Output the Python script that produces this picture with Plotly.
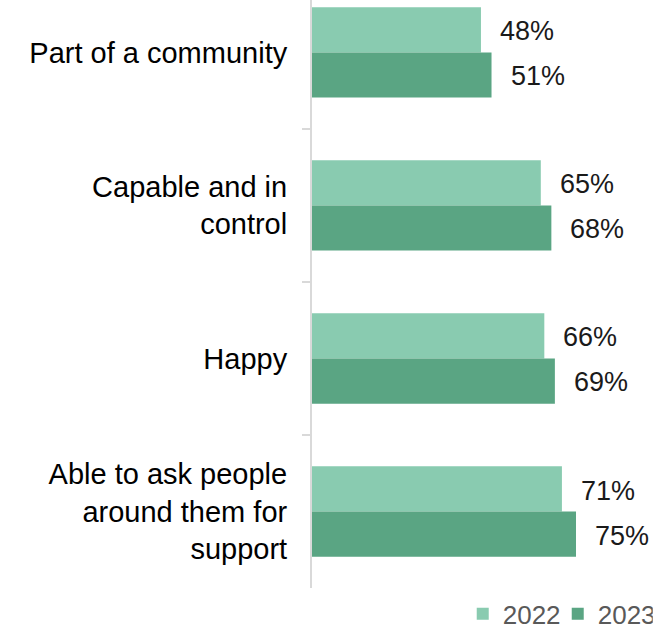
import plotly.graph_objects as go

# Survey results: share of respondents who feel each way, by year
categories = [
    "Part of a community",
    "Capable and in<br>control",
    "Happy",
    "Able to ask people<br>around them for<br>support",
]
values_2022 = [48, 65, 66, 71]
values_2023 = [51, 68, 69, 75]
years = ["2022", "2023"]
colors = ["#89CBB0", "#5AA583"]

FONT = "Arial, Liberation Sans, sans-serif"

fig = go.Figure()
for year, vals, col in zip(years, [values_2022, values_2023], colors):
    fig.add_trace(go.Bar(
        y=categories, x=vals, name=year, orientation="h",
        marker=dict(color=col, line=dict(width=0)),
        hoverinfo="skip",
    ))

# Percentage labels beside each bar
for vals, shift in zip([values_2022, values_2023], [22, -23]):
    for cat, v in zip(categories, vals):
        fig.add_annotation(
            x=v, y=cat, text=f"{v}%", showarrow=False,
            xanchor="left", yanchor="middle", xshift=17, yshift=shift - 1,
            font=dict(family=FONT, size=27, color="#1A1A1A"),
        )

fig.update_layout(
    width=669, height=629,
    margin=dict(l=312, r=5, t=0, b=41, autoexpand=False),
    paper_bgcolor="white", plot_bgcolor="white",
    barmode="group", bargap=0.41, bargroupgap=0,
    font=dict(family=FONT, size=26, color="#000000"),
    showlegend=True,
    legend=dict(
        orientation="h", x=0.968, xanchor="right",
        yref="container", y=0.024, yanchor="middle",
        font=dict(family=FONT, size=26, color="#595959"),
        traceorder="normal", bgcolor="rgba(0,0,0,0)",
        entrywidth=50, entrywidthmode="pixels",
    ),
)
fig.update_xaxes(range=[0, 100], visible=False)
fig.update_yaxes(
    type="category", range=[3.5, -0.343],
    showline=True, linecolor="#D9D9D9", linewidth=2,
    ticks="outside", ticklen=8, tickwidth=2, tickcolor="#D9D9D9",
    tickson="boundaries", showgrid=False, zeroline=False,
    ticklabelstandoff=17,
    tickfont=dict(family=FONT, size=29, color="#000000"),
)

fig.write_html("out.html")
